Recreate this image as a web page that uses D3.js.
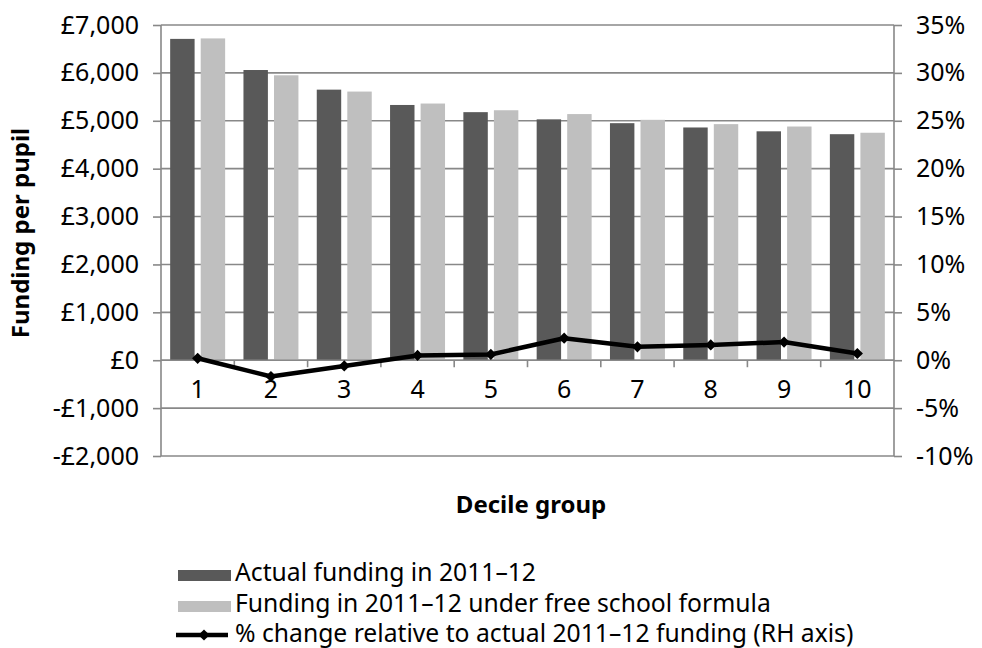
<!DOCTYPE html>
<html>
<head>
<meta charset="utf-8">
<script src="https://cdn.jsdelivr.net/npm/d3@7"></script>
<style>
  html, body { margin: 0; padding: 0; background: #fff; }
  svg { display: block; font-family: "Noto Sans", "Open Sans", sans-serif; }
</style>
</head>
<body>
<svg id="chart" width="982" height="648"></svg>
<script>
// Decile groups and funding series
const deciles = ["1", "2", "3", "4", "5", "6", "7", "8", "9", "10"];
const actualFunding = [6710, 6060, 5650, 5330, 5180, 5030, 4950, 4860, 4780, 4720];
const formulaFunding = [6720, 5950, 5610, 5360, 5220, 5140, 5020, 4930, 4880, 4750];
const pctChange = [0.2, -1.7, -0.6, 0.5, 0.6, 2.3, 1.4, 1.6, 1.9, 0.7];

const leftTicks = [-2000, -1000, 0, 1000, 2000, 3000, 4000, 5000, 6000, 7000];
const rightTicks = [-10, -5, 0, 5, 10, 15, 20, 25, 30, 35];

const seriesNames = [
  "Actual funding in 2011\u201312",
  "Funding in 2011\u201312 under free school formula",
  "% change relative to actual 2011\u201312 funding (RH axis)"
];

const colDark = "#595959", colLight = "#bfbfbf", colGrid = "#888888";

const svg = d3.select("#chart");
const plot = { left: 161, right: 894, top: 25, bottom: 456 };

const x = d3.scaleBand().domain(deciles).range([plot.left, plot.right]).padding(0);
const yL = d3.scaleLinear().domain([-2000, 7000]).range([plot.bottom, plot.top]);
const yR = d3.scaleLinear().domain([-10, 35]).range([plot.bottom, plot.top]);

const inner = d3.scaleBand().domain(["a", "f"]).range([0, x.bandwidth()])
  .paddingOuter(0.3).paddingInner(0.2);

// Horizontal gridlines
svg.append("g").selectAll("line").data(leftTicks).join("line")
  .attr("x1", plot.left).attr("x2", plot.right)
  .attr("y1", d => yL(d)).attr("y2", d => yL(d))
  .attr("stroke", colGrid).attr("stroke-width", 1.6);

// Bars
const groups = svg.append("g").selectAll("g").data(deciles).join("g")
  .attr("transform", d => `translate(${x(d)},0)`);
groups.append("rect")
  .attr("x", inner("a")).attr("width", inner.bandwidth())
  .attr("y", (d, i) => yL(actualFunding[i]))
  .attr("height", (d, i) => yL(0) - yL(actualFunding[i]))
  .attr("fill", colDark);
groups.append("rect")
  .attr("x", inner("f")).attr("width", inner.bandwidth())
  .attr("y", (d, i) => yL(formulaFunding[i]))
  .attr("height", (d, i) => yL(0) - yL(formulaFunding[i]))
  .attr("fill", colLight);

// Left axis
const axL = svg.append("g").attr("transform", `translate(${plot.left},0)`)
  .call(d3.axisLeft(yL).tickValues(leftTicks).tickSize(8).tickPadding(14)
    .tickFormat(d => (d < 0 ? "-\u00a3" : "\u00a3") + d3.format(",")(Math.abs(d))));
// Right axis
const axR = svg.append("g").attr("transform", `translate(${plot.right},0)`)
  .call(d3.axisRight(yR).tickValues(rightTicks).tickSize(8).tickPadding(14)
    .tickFormat(d => d + "%"));
[axL, axR].forEach(ax => {
  ax.select(".domain").attr("stroke", colGrid).attr("stroke-width", 1.6)
    .attr("d", `M0,${plot.top}V${plot.bottom}`);
  ax.selectAll(".tick line").attr("stroke", colGrid).attr("stroke-width", 1.6);
  ax.selectAll("text").attr("font-size", 25).attr("fill", "#000")
    .attr("font-family", "Noto Sans, sans-serif");
});

// Category axis along zero line
const axX = svg.append("g").attr("transform", `translate(0,${yL(0)})`)
  .call(d3.axisBottom(x).tickSize(0).tickPadding(20));
axX.select(".domain").remove();
axX.selectAll("text").attr("font-size", 25).attr("fill", "#000")
  .attr("font-family", "Noto Sans, sans-serif");
svg.append("g").selectAll("line").data(deciles.slice(1)).join("line")
  .attr("x1", d => x(d)).attr("x2", d => x(d))
  .attr("y1", yL(0)).attr("y2", yL(0) + 7)
  .attr("stroke", colGrid).attr("stroke-width", 1.6);
svg.append("line").attr("x1", plot.left).attr("x2", plot.right)
  .attr("y1", yL(0)).attr("y2", yL(0))
  .attr("stroke", colGrid).attr("stroke-width", 1.6);

// Percentage change line
const cx = d => x(d) + x.bandwidth() / 2;
const line = d3.line().x((d, i) => cx(deciles[i])).y(d => yR(d));
svg.append("path").datum(pctChange).attr("d", line)
  .attr("fill", "none").attr("stroke", "#000").attr("stroke-width", 4.5)
  .attr("stroke-linejoin", "round");
const diamond = d3.symbol().type(d3.symbolDiamond2).size(80);
svg.append("g").selectAll("path").data(pctChange).join("path")
  .attr("d", diamond)
  .attr("transform", (d, i) => `translate(${cx(deciles[i])},${yR(d)})`)
  .attr("fill", "#000");

// Axis titles
svg.append("text").attr("transform", "translate(29,233) rotate(-90)")
  .attr("text-anchor", "middle").attr("font-size", 24).attr("font-weight", "bold")
  .text("Funding per pupil");
svg.append("text").attr("x", 531).attr("y", 513)
  .attr("text-anchor", "middle").attr("font-size", 24).attr("font-weight", "bold")
  .text("Decile group");

// Legend
const legend = svg.append("g").attr("transform", "translate(178,0)");
const rows = [581, 612, 642];
legend.append("rect").attr("x", 0).attr("y", rows[0] - 11).attr("width", 53).attr("height", 11).attr("fill", colDark);
legend.append("rect").attr("x", 0).attr("y", rows[1] - 11).attr("width", 53).attr("height", 11).attr("fill", colLight);
legend.append("line").attr("x1", -2).attr("x2", 50).attr("y1", rows[2] - 7).attr("y2", rows[2] - 7)
  .attr("stroke", "#000").attr("stroke-width", 4.5);
legend.append("path").attr("d", diamond).attr("transform", `translate(26,${rows[2] - 7})`).attr("fill", "#000");
legend.selectAll("text").data(seriesNames).join("text")
  .attr("x", 57).attr("y", (d, i) => rows[i])
  .attr("font-size", 24.7).text(d => d);
</script>
</body>
</html>
